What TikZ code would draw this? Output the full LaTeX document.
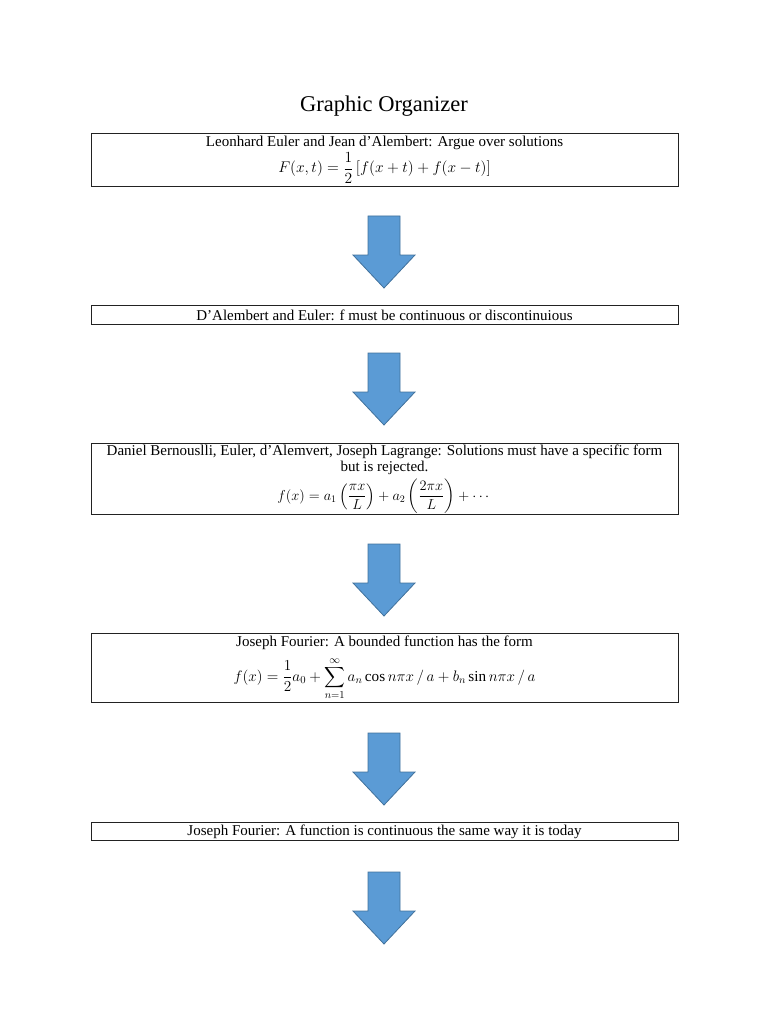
\RequirePackage{fix-cm}
\documentclass[tikz,border=0pt]{standalone}
\usepackage{fontspec}
\setmainfont{Liberation Serif}
\usepackage{amsmath}
\definecolor{arrfill}{HTML}{5B9BD5}
\definecolor{arrdraw}{HTML}{41719C}
\definecolor{boxline}{HTML}{222222}
\newcommand\mathsz[1]{\fontsize{#1}{18}\selectfont}
\tikzset{
  infobox/.style={draw=boxline, line width=0.9pt, minimum width=587pt, inner sep=1pt, align=center, font=\fontsize{15}{17}\selectfont, anchor=north},
  blockarrow/.style={fill=arrfill, draw=arrdraw, line width=0.8pt, line join=miter},
  titletext/.style={font=\fontsize{22.5}{26}\selectfont}
}
% \blockdown{name}{top y}
\newcommand\blockdown[2]{%
  \coordinate (#1) at (384,#2);
  \draw[blockarrow] ([xshift=-16pt]#1) -- ([xshift=16pt]#1) -- ([xshift=16pt,yshift=-39pt]#1)
    -- ([xshift=31pt,yshift=-39pt]#1) -- ([yshift=-72pt]#1) -- ([xshift=-31pt,yshift=-39pt]#1)
    -- ([xshift=-16pt,yshift=-39pt]#1) -- cycle;%
}
\begin{document}
\begin{tikzpicture}[x=1pt,y=-1pt]
\useasboundingbox (0,0) rectangle (768,1024);
\node[titletext] (title) at (384,106) {Graphic Organizer};
\node[infobox, minimum height=53pt] (b1) at (384.5,133)
  {Leonhard Euler and Jean d’Alembert: Argue over solutions\\[1pt]
   {\mathsz{15.5}$F(x,t)=\dfrac{1}{2}\left[f(x+t)+f(x-t)\right]$}};
\node[infobox, minimum height=19pt] (b2) at (384.5,305)
  {D’Alembert and Euler: f must be continuous or discontinuious};
\node[infobox, minimum height=71pt] (b3) at (384.5,443)
  {Daniel Bernouslli, Euler, d’Alemvert, Joseph Lagrange: Solutions must have a specific form\\[-1pt]
   but is rejected.\\[4pt]
   {\mathsz{14.4}$f(x)=a_1\left(\dfrac{\pi x}{L}\right)+a_2\left(\dfrac{2\pi x}{L}\right)+\cdots$}};
\node[infobox, minimum height=69pt] (b4) at (384.5,633)
  {Joseph Fourier: A bounded function has the form\\[6pt]
   {\mathsz{15.2}$\displaystyle f(x)=\frac{1}{2}a_0+\sum_{n=1}^{\infty}a_n\cos n\pi x\,/\,a+b_n\sin n\pi x\,/\,a$}};
\node[infobox, minimum height=18pt] (b5) at (384.5,822)
  {Joseph Fourier: A function is continuous the same way it is today};
\blockdown{a1}{216}
\blockdown{a2}{353}
\blockdown{a3}{544}
\blockdown{a4}{733}
\blockdown{a5}{872}
\end{tikzpicture}
\end{document}
